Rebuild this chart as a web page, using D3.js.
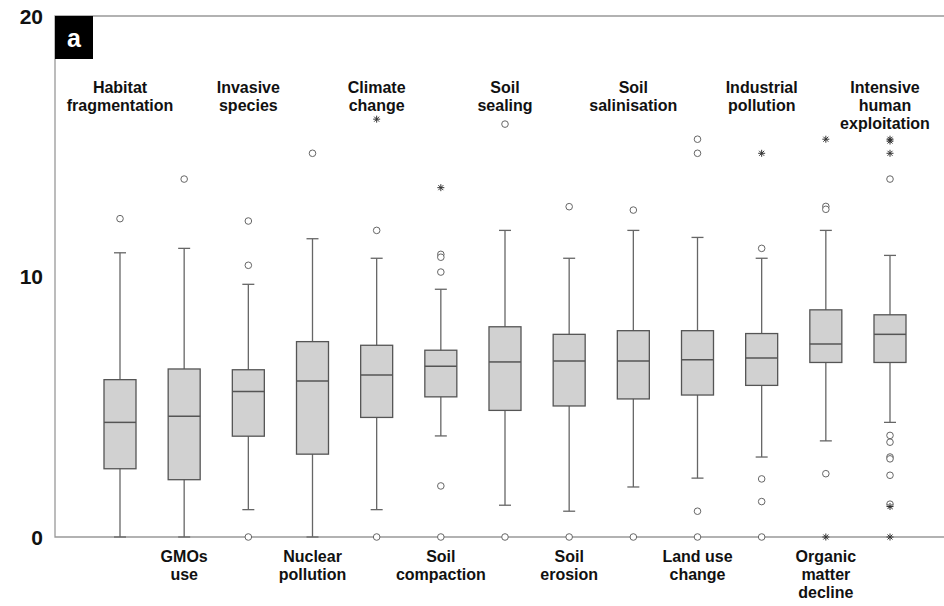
<!DOCTYPE html>
<meta charset="utf-8">
<style>
body { margin: 0; background: #fff; }
text { font-family: Arial, "Liberation Sans", sans-serif; font-weight: bold; fill: #111; }
.box { fill: #d1d1d1; stroke: #555; stroke-width: 1.3px; }
.med { stroke: #555; stroke-width: 1.5px; }
.whisk { stroke: #666; stroke-width: 1.3px; }
.out { fill: #fff; stroke: #666; stroke-width: 1px; }
.star { stroke: #333; stroke-width: 1px; }
.frame { stroke: #999; stroke-width: 1.3px; fill: none; }
</style>
<body>
<script src="https://cdnjs.cloudflare.com/ajax/libs/d3/7.8.5/d3.min.js"></script>
<script>

// threat categories, left to right (odd ones are labelled below the axis)
var categories = [
  ["Habitat", "fragmentation"],
  ["GMOs", "use"],
  ["Invasive", "species"],
  ["Nuclear", "pollution"],
  ["Climate", "change"],
  ["Soil", "compaction"],
  ["Soil", "sealing"],
  ["Soil", "erosion"],
  ["Soil", "salinisation"],
  ["Land use", "change"],
  ["Industrial", "pollution"],
  ["Organic", "matter", "decline"],
  ["Intensive", "human", "exploitation"]
];

// box statistics
var lowWhisker = [0, 0, 1.05, 0, 1.05, 3.88, 1.22, 0.99, 1.92, 2.26, 3.07, 3.69, 4.40];
var q1         = [2.62, 2.20, 3.87, 3.18, 4.59, 5.38, 4.86, 5.03, 5.30, 5.45, 5.82, 6.70, 6.70];
var median     = [4.40, 4.64, 5.59, 5.99, 6.22, 6.55, 6.72, 6.76, 6.76, 6.80, 6.87, 7.41, 7.78];
var q3         = [6.04, 6.45, 6.42, 7.50, 7.36, 7.17, 8.07, 7.78, 7.92, 7.92, 7.81, 8.72, 8.53];
var highWhisker = [10.91, 11.08, 9.70, 11.45, 10.70, 9.51, 11.77, 10.70, 11.77, 11.50, 10.70, 11.77, 10.81];

// outliers (circles) and extremes (stars)
var outliers = [
  [12.22],
  [13.74],
  [12.13, 10.43, 0],
  [14.73],
  [11.77, 0],
  [10.85, 10.74, 10.17, 1.96, 0],
  [15.85, 0],
  [12.68, 0],
  [12.55, 0],
  [15.27, 14.73, 0.99, 0],
  [11.08, 2.23, 1.36, 0],
  [12.69, 12.58, 2.43],
  [13.74, 3.90, 3.64, 3.07, 3.00, 2.37, 1.26]
];
var extremes = [
  [], [], [], [],
  [16.04],
  [13.41],
  [], [], [], [],
  [14.73],
  [15.27, 0],
  [15.27, 15.20, 14.73, 1.17, 0]
];

var yTicks = [0, 10, 20];

var width = 944, height = 606;

var svg = d3.select("body").append("svg")
    .attr("width", width)
    .attr("height", height);

var x = d3.scalePoint()
    .domain(d3.range(categories.length))
    .range([120, 890]);

var y = d3.scaleLinear()
    .domain([0, 20])
    .range([537, 16]);

var boxW = 32, capW = 12;

// frame: left, top and bottom lines
svg.append("path")
    .attr("class", "frame")
    .attr("d", "M" + width + "," + y(20) + "H55V" + y(0) + "H" + width);

// y labels
svg.selectAll(".ylab")
    .data(yTicks)
  .enter().append("text")
    .attr("class", "ylab")
    .attr("x", 43)
    .attr("y", function(d) { return y(d); })
    .attr("dy", "0.36em")
    .attr("text-anchor", "end")
    .style("font-size", "21px")
    .text(function(d) { return d; });

// panel tag
svg.append("rect")
    .attr("x", 55).attr("y", y(20))
    .attr("width", 38).attr("height", 43)
    .attr("fill", "#000");
svg.append("text")
    .attr("x", 74).attr("y", 47)
    .attr("text-anchor", "middle")
    .style("font-size", "25px")
    .style("fill", "#fff")
    .text("a");

var g = svg.selectAll(".cat")
    .data(categories)
  .enter().append("g")
    .attr("class", "cat")
    .attr("transform", function(d, i) { return "translate(" + x(i) + ",0)"; });

// whiskers
g.append("line")
    .attr("class", "whisk")
    .attr("y1", function(d, i) { return y(lowWhisker[i]); })
    .attr("y2", function(d, i) { return y(highWhisker[i]); });

g.selectAll(".cap")
    .data(function(d, i) { return [lowWhisker[i], highWhisker[i]]; })
  .enter().append("line")
    .attr("class", "whisk")
    .attr("x1", -capW / 2).attr("x2", capW / 2)
    .attr("y1", function(v) { return y(v); })
    .attr("y2", function(v) { return y(v); });

// boxes
g.append("rect")
    .attr("class", "box")
    .attr("x", -boxW / 2)
    .attr("width", boxW)
    .attr("y", function(d, i) { return y(q3[i]); })
    .attr("height", function(d, i) { return y(q1[i]) - y(q3[i]); });

g.append("line")
    .attr("class", "med")
    .attr("x1", -boxW / 2).attr("x2", boxW / 2)
    .attr("y1", function(d, i) { return y(median[i]); })
    .attr("y2", function(d, i) { return y(median[i]); });

// outliers
g.selectAll(".out")
    .data(function(d, i) { return outliers[i]; })
  .enter().append("circle")
    .attr("class", "out")
    .attr("cy", function(v) { return y(v); })
    .attr("r", 3.3);

// extremes as small asterisks
var star = "M-3.5,0H3.5M0,-3.5V3.5M-2.5,-2.5L2.5,2.5M-2.5,2.5L2.5,-2.5";
g.selectAll(".star")
    .data(function(d, i) { return extremes[i]; })
  .enter().append("path")
    .attr("class", "star")
    .attr("d", star)
    .attr("transform", function(v) { return "translate(0," + y(v) + ")"; });

// category labels: even above, odd below; last one nudged in from the edge
g.each(function(d, i) {
  var top = i % 2 === 0;
  var dx = i === categories.length - 1 ? -5 : 0;
  var t = d3.select(this).append("text")
      .attr("text-anchor", "middle")
      .style("font-size", "16px");
  t.selectAll("tspan")
      .data(d)
    .enter().append("tspan")
      .attr("x", dx)
      .attr("y", function(s, k) { return (top ? 93 : 562) + k * 18; })
      .text(function(s) { return s; });
});

</script>
</body>
